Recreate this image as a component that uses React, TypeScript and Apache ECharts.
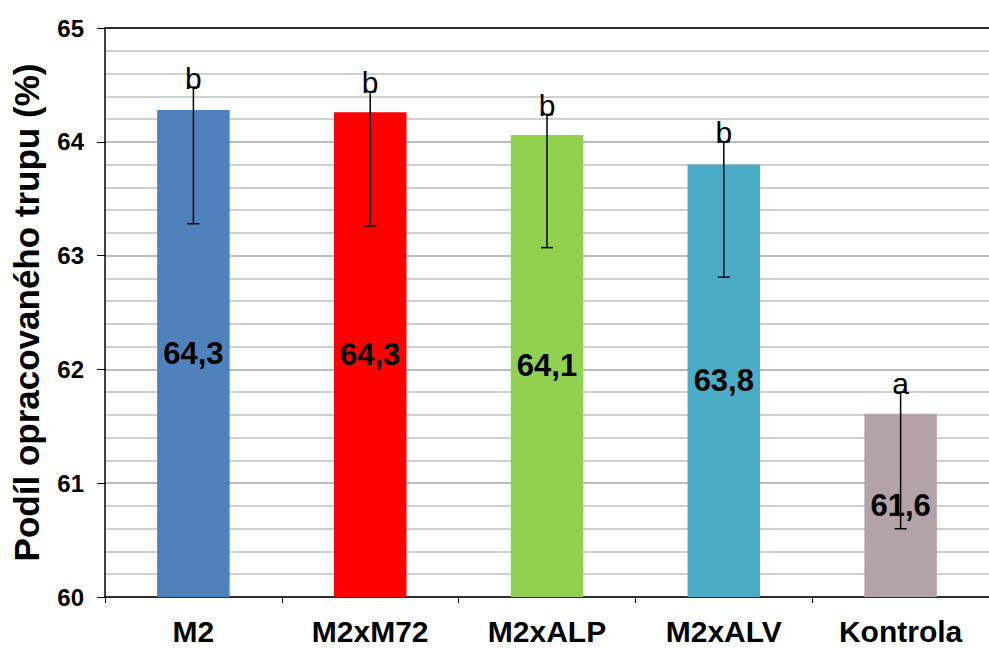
import React, { useEffect, useRef } from "react";
import * as echarts from "echarts";

const categories = ["M2", "M2xM72", "M2xALP", "M2xALV", "Kontrola"];
const values = [64.28, 64.26, 64.06, 63.8, 61.61];
const valueLabels = ["64,3", "64,3", "64,1", "63,8", "61,6"];
const errTop = [64.48, 64.44, 64.24, 64.0, 61.8];
const errBottom = [63.28, 63.26, 63.07, 62.81, 60.6];
const letters = ["b", "b", "b", "b", "a"];
const colors = ["#4F81BD", "#FF0000", "#92D050", "#4BACC6", "#B3A3A8"];

const FONT = "'Liberation Sans', Arial, sans-serif";

export default function App() {
  const ref = useRef<HTMLDivElement>(null);
  useEffect(() => {
    const chart = echarts.init(ref.current!, null, { renderer: "svg" });
    chart.setOption({
      animation: false,
      grid: { left: 105, right: -10, top: 28, bottom: 51 },
      xAxis: [
        {
          type: "category",
          data: categories,
          axisLine: { lineStyle: { color: "#000", width: 1.5 } },
          axisTick: { show: true, alignWithLabel: false, length: 6, lineStyle: { color: "#000" } },
          axisLabel: {
            color: "#000",
            fontSize: 30,
            lineHeight: 20,
            fontWeight: "bold",
            fontFamily: FONT,
            margin: 24,
          },
        },
        {
          type: "category",
          data: categories,
          position: "top",
          axisLine: { lineStyle: { color: "#000", width: 1.5 } },
          axisTick: { show: false },
          axisLabel: { show: false },
        },
      ],
      yAxis: {
        type: "value",
        min: 60,
        max: 65,
        interval: 1,
        name: "Podíl opracovaného trupu (%)",
        nameLocation: "middle",
        nameGap: 61,
        nameTextStyle: { color: "#000", fontSize: 35, fontWeight: "bold", fontFamily: FONT },
        axisLine: { show: true, lineStyle: { color: "#000", width: 1.5 } },
        axisTick: { show: true, length: 8, lineStyle: { color: "#000" } },
        axisLabel: { color: "#000", fontSize: 24, fontWeight: "bold", fontFamily: FONT, margin: 21 },
        splitLine: { show: true, lineStyle: { color: "#A6A6A6", width: 1.5 } },
        minorTick: { show: false, splitNumber: 5 },
        minorSplitLine: { show: true, lineStyle: { color: "#BFBFBF", width: 1.5 } },
      },
      series: [
        {
          type: "bar",
          barWidth: "41%",
          data: values.map((v, i) => ({ value: v, itemStyle: { color: colors[i] } })),
          label: {
            show: true,
            position: "inside",
            color: "#000",
            fontSize: 31,
            fontWeight: "bold",
            fontFamily: FONT,
            formatter: (p: any) => valueLabels[p.dataIndex],
          },
          z: 2,
        },
        {
          type: "custom",
          z: 3,
          data: categories.map((c, i) => [i, errTop[i], errBottom[i]]),
          renderItem: (params: any, api: any) => {
            const i = api.value(0);
            const top = api.coord([i, api.value(1)]);
            const bot = api.coord([i, api.value(2)]);
            const hw = 6;
            const style = { stroke: "#000", lineWidth: 1.5 };
            return {
              type: "group",
              children: [
                { type: "line", shape: { x1: top[0], y1: top[1], x2: bot[0], y2: bot[1] }, style },
                { type: "line", shape: { x1: top[0] - hw, y1: top[1], x2: top[0] + hw, y2: top[1] }, style },
                { type: "line", shape: { x1: bot[0] - hw, y1: bot[1], x2: bot[0] + hw, y2: bot[1] }, style },
                {
                  type: "text",
                  x: top[0],
                  y: top[1] + 6,
                  style: {
                    text: letters[params.dataIndex],
                    fill: "#000",
                    fontSize: 30,
                    fontFamily: FONT,
                    align: "center",
                    verticalAlign: "bottom",
                  },
                },
              ],
            };
          },
        },
      ],
    });
    return () => chart.dispose();
  }, []);
  return <div ref={ref} style={{ width: 989, height: 648, position: "absolute", left: 0, top: 0, background: "#fff" }} />;
}
